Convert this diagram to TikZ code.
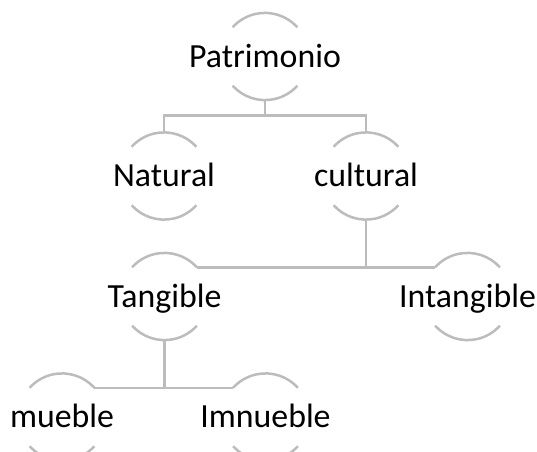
\documentclass[tikz,border=0pt]{standalone}
\usepackage{fontspec}
\setmainfont{Carlito}
\usetikzlibrary{calc}
\definecolor{linegray}{RGB}{188,188,188}
\tikzset{
  lbl/.style={inner sep=0pt, text height=21.5pt, text depth=0pt, font=\fontsize{33.8}{36}\selectfont},
  conn/.style={draw=linegray, line width=2.5pt},
}
\newcommand{\nodearcs}[1]{%
  \draw[conn] ($(#1)+(42:43.6)$) arc (42:138:43.6);
  \draw[conn] ($(#1)+(222:43.6)$) arc (222:318:43.6);
  \coordinate (#1t) at ($(#1)+(0,43.6)$);
  \coordinate (#1b) at ($(#1)+(0,-43.6)$);
  \coordinate (#1l) at ($(#1)+(138:43.6)$);
  \coordinate (#1r) at ($(#1)+(42:43.6)$);
}
\begin{document}
\begin{tikzpicture}[x=1pt,y=1pt]
\useasboundingbox (0,0) rectangle (537,451);
\clip (0,0) rectangle (537,451);
% centers (y flipped: 451 - y_px)
\coordinate (P) at (265,394.5);
\coordinate (N) at (164,275);
\coordinate (C) at (366,275);
\coordinate (T) at (164.5,154.5);
\coordinate (I) at (467.5,154.5);
\coordinate (M) at (62,34);
\coordinate (Im) at (265.5,34);
\foreach \n in {P,N,C,T,I,M,Im} {\nodearcs{\n}}
\node[lbl] (Pn) at (P) {Patrimonio};
\node[lbl] (Nn) at (N) {Natural};
\node[lbl] (Cn) at (C) {cultural};
\node[lbl] (Tn) at (T) {Tangible};
\node[lbl] (In) at (I) {Intangible};
\node[lbl] (Mn) at (M) {mueble};
\node[lbl] (Imn) at (Im) {Imnueble};
% connectors
\draw[conn] (Pb) -- ++(0,-17);
\draw[conn] (Nt) -- ++(0,17) -| (Ct);
\draw[conn] (Cb) |- (Tr);
\draw[conn] (Tr) -- (Il);
\draw[conn] (Tb) |- (Mr);
\draw[conn] (Mr) -- (Iml);
\end{tikzpicture}
\end{document}
